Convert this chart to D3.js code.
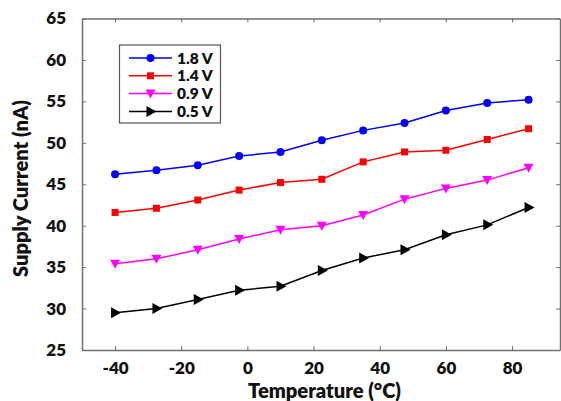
<!DOCTYPE html>
<html>
<head>
<meta charset="utf-8">
<script src="https://cdn.jsdelivr.net/npm/d3@7"></script>
<style>
  html, body { margin: 0; padding: 0; background: #fff; }
  svg { display: block; }
  text { font-family: Lato, "Open Sans", sans-serif; font-weight: 800; fill: #111; }
</style>
</head>
<body>
<svg id="chart" width="561" height="401"></svg>
<script>
// Temperature sweep (°C)
const temperatures = [-40, -27.5, -15, -2.5, 10, 22.5, 35, 47.5, 60, 72.5, 85];

// Supply current (nA) per supply voltage
const current18 = [46.2, 46.7, 47.3, 48.4, 48.9, 50.3, 51.5, 52.4, 53.9, 54.8, 55.2];
const current14 = [41.6, 42.1, 43.1, 44.3, 45.2, 45.6, 47.7, 48.9, 49.1, 50.4, 51.7];
const current09 = [35.4, 36.0, 37.1, 38.4, 39.5, 40.0, 41.3, 43.2, 44.5, 45.5, 47.0];
const current05 = [29.5, 30.0, 31.1, 32.2, 32.7, 34.6, 36.1, 37.1, 38.9, 40.1, 42.2];

const seriesLabels = ["1.8 V", "1.4 V", "0.9 V", "0.5 V"];
const xTicks = [-40, -20, 0, 20, 40, 60, 80];
const yTicks = [25, 30, 35, 40, 45, 50, 55, 60, 65];

const series = [
  { label: seriesLabels[0], values: current18, color: "#0000ff", marker: "circle" },
  { label: seriesLabels[1], values: current14, color: "#ff0000", marker: "square" },
  { label: seriesLabels[2], values: current09, color: "#ff00ff", marker: "triDown" },
  { label: seriesLabels[3], values: current05, color: "#000000", marker: "triRight" }
];

const svg = d3.select("#chart");
const plot = { left: 82, right: 560, top: 18.5, bottom: 350 };

const x = d3.scaleLinear().domain([-50, 94.5]).range([plot.left, plot.right]);
const y = d3.scaleLinear().domain([25, 65]).range([plot.bottom, plot.top]);

const frameColor = "#707070";
const tickLen = 4;
const hyphenFormat = d => String(d); // plain hyphen-minus for negatives

// Axes: ticks point inward on all four sides
const gBottom = svg.append("g").attr("transform", `translate(0,${plot.bottom})`)
  .call(d3.axisBottom(x).tickValues(xTicks).tickFormat(hyphenFormat)
    .tickSizeInner(-tickLen).tickSizeOuter(0).tickPadding(12));
const gTop = svg.append("g").attr("transform", `translate(0,${plot.top})`)
  .call(d3.axisTop(x).tickValues(xTicks).tickSizeInner(-tickLen).tickSizeOuter(0).tickFormat(""));
const gLeft = svg.append("g").attr("transform", `translate(${plot.left},0)`)
  .call(d3.axisLeft(y).tickValues(yTicks).tickFormat(hyphenFormat)
    .tickSizeInner(-tickLen).tickSizeOuter(0).tickPadding(16));
const gRight = svg.append("g").attr("transform", `translate(${plot.right},0)`)
  .call(d3.axisRight(y).tickValues(yTicks).tickSizeInner(-tickLen).tickSizeOuter(0).tickFormat(""));

[gBottom, gTop, gLeft, gRight].forEach(g => {
  g.select(".domain").attr("stroke", frameColor).attr("stroke-width", 1.5);
  g.selectAll(".tick line").attr("stroke", frameColor).attr("stroke-width", 1);
});
[gBottom, gLeft].forEach(g => {
  g.selectAll(".tick text").attr("font-size", 17).attr("fill", "#111")
    .attr("font-family", "Lato, sans-serif").attr("font-weight", 800);
});

// Axis titles, sized to span their allotted width
function fitText(sel, targetWidth) {
  const w = sel.node().getComputedTextLength();
  const fs = parseFloat(sel.attr("font-size"));
  sel.attr("font-size", (fs * targetWidth / w).toFixed(2));
}
const xTitle = svg.append("text")
  .attr("x", 324.5).attr("y", 398)
  .attr("text-anchor", "middle").attr("font-size", 20)
  .text("Temperature (°C)");
fitText(xTitle, 153);
const yTitle = svg.append("text")
  .attr("transform", "translate(28,188.5) rotate(-90)")
  .attr("text-anchor", "middle").attr("font-size", 20)
  .text("Supply Current (nA)");
fitText(yTitle, 177);

// Marker shapes
function drawMarker(g, kind, cx, cy, color) {
  if (kind === "circle") {
    g.append("circle").attr("cx", cx).attr("cy", cy).attr("r", 4).attr("fill", color);
  } else if (kind === "square") {
    g.append("rect").attr("x", cx - 3.5).attr("y", cy - 3.5).attr("width", 7).attr("height", 7).attr("fill", color);
  } else if (kind === "triDown") {
    g.append("path").attr("d", `M${cx - 5},${cy - 4}L${cx + 5},${cy - 4}L${cx},${cy + 5}Z`).attr("fill", color);
  } else {
    g.append("path").attr("d", `M${cx - 4},${cy - 5.5}L${cx + 6},${cy}L${cx - 4},${cy + 5.5}Z`).attr("fill", color);
  }
}

const line = d3.line().x(d => x(d[0])).y(d => y(d[1]));

series.forEach(s => {
  const pts = temperatures.map((t, i) => [t, s.values[i]]);
  const g = svg.append("g");
  g.append("path").datum(pts).attr("d", line)
    .attr("fill", "none").attr("stroke", s.color).attr("stroke-width", 1.5);
  pts.forEach(p => drawMarker(g, s.marker, x(p[0]), y(p[1]), s.color));
});

// Legend
const legend = svg.append("g");
legend.append("rect")
  .attr("x", 119.5).attr("y", 45).attr("width", 101).attr("height", 78)
  .attr("fill", "#fff").attr("stroke", "#555").attr("stroke-width", 1.2);
series.forEach((s, i) => {
  const ly = 58 + i * 17.8;
  legend.append("line").attr("x1", 129).attr("x2", 172).attr("y1", ly).attr("y2", ly)
    .attr("stroke", s.color).attr("stroke-width", 1.5);
  drawMarker(legend, s.marker, 150.5, ly, s.color);
  legend.append("text").attr("x", 177).attr("y", ly).attr("dy", "0.36em")
    .attr("font-size", 15.5).text(s.label);
});
</script>
</body>
</html>
